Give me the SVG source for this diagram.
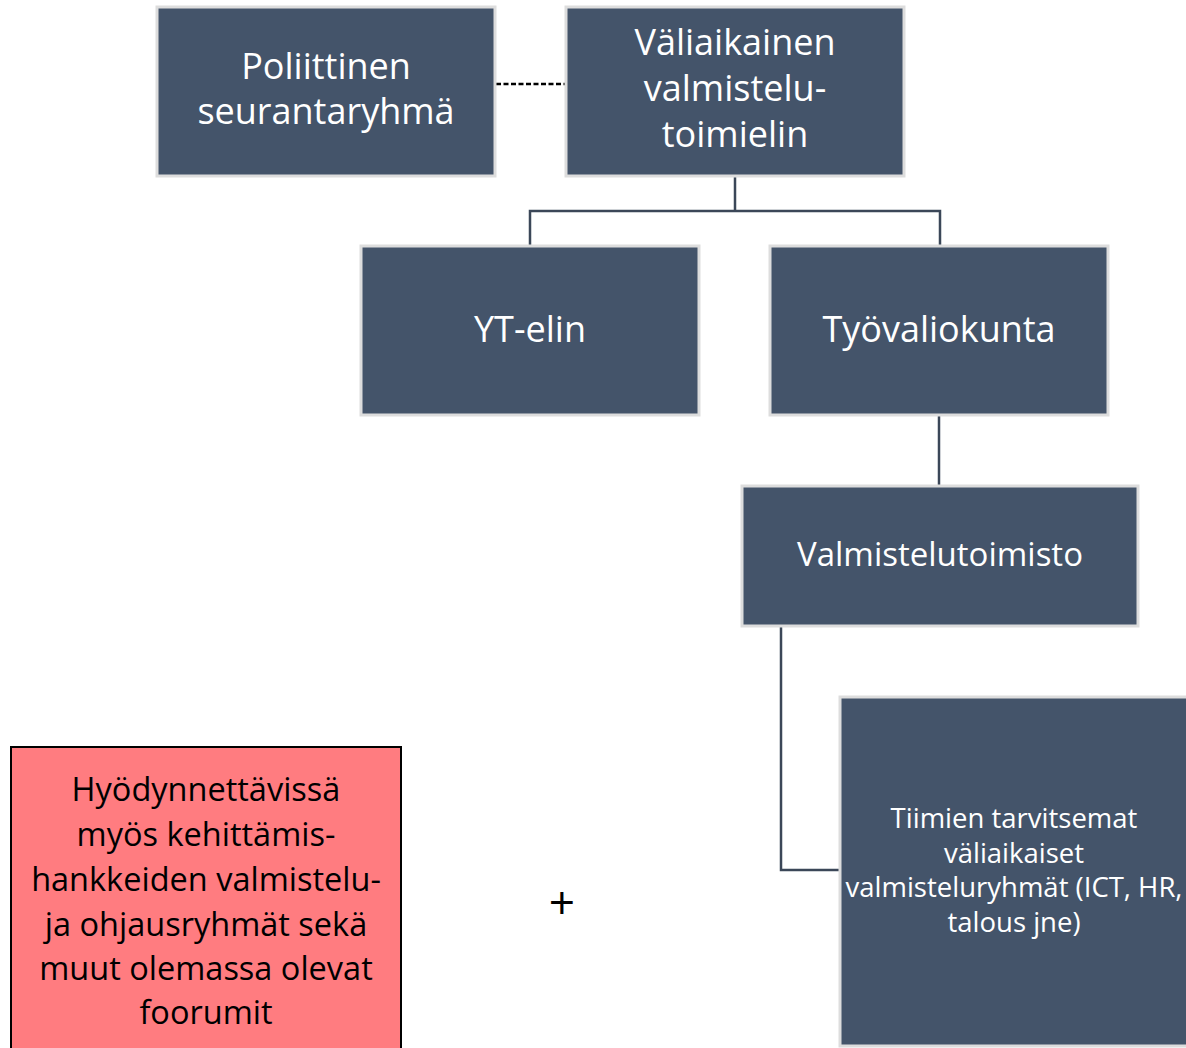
<svg xmlns="http://www.w3.org/2000/svg" width="1186" height="1048" viewBox="0 0 1186 1048">
<style>
.box{fill:#44546A;stroke:#DDDDDD;stroke-width:3}
.t{font-family:"Open Sans","Liberation Sans",sans-serif;fill:#FFFFFF;text-anchor:middle}
.pink{fill:#FF7C80;stroke:#000000;stroke-width:2}
.pt{font-family:"Open Sans","Liberation Sans",sans-serif;fill:#000000;text-anchor:middle;font-size:32.5px}
.conn{fill:none;stroke:#3B4758;stroke-width:2.5}
.dash{fill:none;stroke:#000000;stroke-width:2.4;stroke-dasharray:5 2.5}
</style>
<rect width="1186" height="1048" fill="#FFFFFF"/>
<g id="connectors">
<line class="dash" x1="496" y1="84" x2="568" y2="84"/>
<path class="conn" d="M735,177 V211 M530,246 V211 H940 V246"/>
<path class="conn" d="M939,416 V486"/>
<path class="conn" d="M781,627 V870 H840"/>
</g>
<g id="poliittinen">
<rect class="box" x="157" y="7" width="338" height="169"/>
<text class="t" font-size="36" x="326" y="79">Poliittinen</text>
<text class="t" font-size="36" x="326" y="124">seurantaryhmä</text>
</g>
<g id="valiaikainen">
<rect class="box" x="566" y="7" width="338" height="169"/>
<text class="t" font-size="36" x="735" y="55">Väliaikainen</text>
<text class="t" font-size="36" x="735" y="101">valmistelu-</text>
<text class="t" font-size="36" x="735" y="147">toimielin</text>
</g>
<g id="yt-elin">
<rect class="box" x="361" y="246" width="338" height="169"/>
<text class="t" font-size="36" x="530" y="342">YT-elin</text>
</g>
<g id="tyovaliokunta">
<rect class="box" x="770" y="246" width="338" height="169"/>
<text class="t" font-size="36" x="939" y="342">Työvaliokunta</text>
</g>
<g id="valmistelutoimisto">
<rect class="box" x="742" y="486" width="396" height="140"/>
<text class="t" font-size="33" x="940" y="566">Valmistelutoimisto</text>
</g>
<g id="tiimien">
<rect class="box" x="840" y="697" width="360" height="349"/>
<text class="t" font-size="27.5" x="1014" y="828">Tiimien tarvitsemat</text>
<text class="t" font-size="27.5" x="1014" y="863">väliaikaiset</text>
<text class="t" font-size="27.5" x="1014" y="897">valmisteluryhmät (ICT, HR,</text>
<text class="t" font-size="27.5" x="1014" y="932">talous jne)</text>
</g>
<g id="hyodynnettavissa">
<rect class="pink" x="11" y="747" width="390" height="310"/>
<text class="pt" x="206" y="801">Hyödynnettävissä</text>
<text class="pt" x="206" y="846">myös kehittämis-</text>
<text class="pt" x="206" y="891">hankkeiden valmistelu-</text>
<text class="pt" x="206" y="936">ja ohjausryhmät sekä</text>
<text class="pt" x="206" y="980">muut olemassa olevat</text>
<text class="pt" x="206" y="1024">foorumit</text>
</g>
<g id="plus">
<text x="562" y="919" font-family="Open Sans, Liberation Sans, sans-serif" font-size="46" fill="#000000" text-anchor="middle">+</text>
</g>
</svg>
